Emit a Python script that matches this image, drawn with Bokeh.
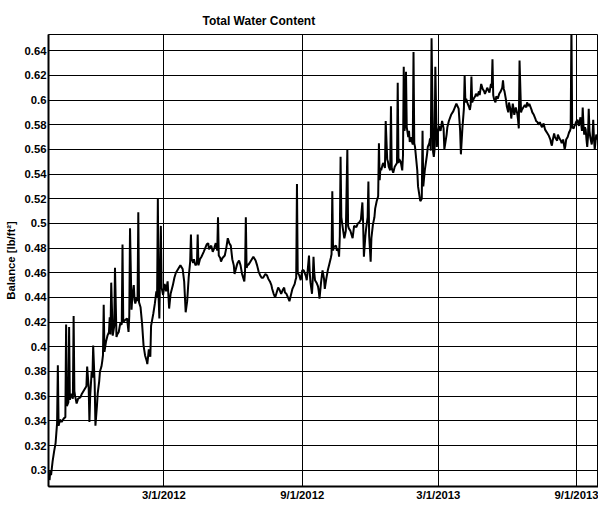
import pandas as pd
from datetime import datetime
from bokeh.plotting import figure
from bokeh.models import FixedTicker, Range1d
from bokeh.embed import file_html
from bokeh.resources import INLINE

# ---------------- data ----------------
start_date = "2011-10-01"

days_since_start = [
    0, 1, 2, 4, 6, 8, 9, 10, 11, 12, 14, 16, 19, 21, 22, 23, 25, 26, 27, 29,
    31, 32, 33, 34, 36, 38, 41, 43, 45, 47, 49, 50, 52, 53, 54, 56, 57, 58, 60, 61,
    63, 64, 66, 67, 69, 70, 71, 72, 73, 75, 77, 79, 80, 81, 82, 84, 86, 87, 89, 90,
    92, 94, 96, 97, 98, 101, 103, 105, 106, 107, 109, 110, 112, 113, 114, 116, 117, 118, 119, 121,
    123, 125, 127, 129, 130, 132, 134, 135, 138, 140, 142, 143, 144, 145, 146, 148, 149, 151, 153, 155,
    157, 159, 161, 164, 166, 168, 170, 172, 174, 177, 179, 181, 183, 185, 187, 188, 189, 191, 192, 194,
    196, 197, 198, 200, 202, 205, 207, 209, 211, 212, 214, 215, 217, 219, 221, 223, 224, 225, 227, 228,
    230, 233, 235, 237, 239, 241, 243, 245, 246, 249, 250, 252, 254, 256, 259, 260, 261, 262, 263, 265,
    267, 269, 271, 274, 276, 278, 280, 282, 284, 287, 289, 291, 293, 295, 296, 298, 300, 302, 304, 306,
    308, 310, 312, 313, 315, 317, 319, 321, 323, 326, 327, 328, 329, 330, 332, 334, 336, 338, 341, 342,
    343, 345, 346, 347, 349, 350, 351, 352, 353, 355, 357, 358, 359, 361, 362, 363, 365, 366, 368, 370,
    372, 374, 375, 376, 377, 378, 381, 382, 384, 385, 386, 387, 388, 390, 391, 392, 394, 396, 397, 398,
    400, 402, 403, 405, 408, 410, 412, 414, 416, 417, 418, 420, 421, 423, 424, 425, 427, 428, 430, 432,
    433, 435, 437, 438, 439, 440, 441, 443, 444, 446, 447, 449, 450, 451, 453, 454, 455, 457, 459, 462,
    463, 464, 465, 467, 469, 470, 471, 472, 473, 474, 475, 477, 478, 479, 481, 482, 483, 484, 485, 486,
    489, 490, 492, 493, 495, 496, 497, 499, 502, 503, 505, 506, 507, 508, 510, 511, 512, 513, 515, 516,
    518, 520, 522, 524, 525, 528, 529, 531, 534, 537, 539, 541, 544, 546, 547, 549, 551, 552, 553, 554,
    556, 558, 559, 560, 561, 562, 564, 566, 567, 569, 571, 572, 574, 576, 578, 579, 581, 582, 585, 587,
    588, 589, 590, 591, 593, 594, 596, 598, 600, 602, 603, 604, 605, 607, 608, 610, 611, 613, 614, 616,
    617, 618, 620, 622, 623, 624, 625, 627, 628, 630, 632, 634, 635, 637, 638, 641, 642, 644, 646, 647,
    649, 650, 652, 654, 655, 657, 659, 660, 662, 664, 666, 667, 668, 669, 671, 672, 673, 675, 676, 678,
    680, 681, 683, 684, 685, 686, 687, 689, 690, 691, 692, 693, 694, 695, 697, 698, 699, 700, 702, 703,
    704, 705, 706, 708, 709, 710, 711, 712, 713, 714, 715, 716, 717, 718, 719, 721, 722, 723, 724, 725,
    726, 727, 729, 730,
]

balance = [
    0.292, 0.300, 0.296, 0.307, 0.315, 0.322, 0.330, 0.338, 0.385, 0.336, 0.341, 0.339, 0.342, 0.343, 0.418, 0.352, 0.355, 0.416, 0.357, 0.362,
    0.358, 0.425, 0.364, 0.360, 0.354, 0.358, 0.359, 0.362, 0.364, 0.366, 0.368, 0.384, 0.367, 0.339, 0.360, 0.380, 0.375, 0.401, 0.370, 0.336,
    0.352, 0.362, 0.372, 0.380, 0.384, 0.388, 0.393, 0.434, 0.396, 0.404, 0.409, 0.412, 0.424, 0.410, 0.452, 0.409, 0.417, 0.464, 0.408, 0.410,
    0.412, 0.419, 0.418, 0.483, 0.420, 0.422, 0.423, 0.412, 0.425, 0.496, 0.430, 0.440, 0.450, 0.438, 0.435, 0.440, 0.437, 0.509, 0.436, 0.432,
    0.419, 0.401, 0.393, 0.389, 0.386, 0.398, 0.392, 0.417, 0.427, 0.435, 0.445, 0.440, 0.520, 0.440, 0.423, 0.498, 0.448, 0.442, 0.451, 0.445,
    0.453, 0.431, 0.443, 0.450, 0.456, 0.460, 0.462, 0.464, 0.466, 0.463, 0.453, 0.428, 0.437, 0.456, 0.469, 0.491, 0.471, 0.468, 0.471, 0.466,
    0.468, 0.491, 0.466, 0.471, 0.473, 0.477, 0.480, 0.483, 0.484, 0.479, 0.481, 0.482, 0.477, 0.480, 0.484, 0.478, 0.505, 0.474, 0.472, 0.469,
    0.472, 0.474, 0.480, 0.488, 0.484, 0.482, 0.471, 0.466, 0.459, 0.466, 0.468, 0.470, 0.466, 0.459, 0.453, 0.462, 0.505, 0.464, 0.466, 0.467,
    0.469, 0.471, 0.473, 0.470, 0.466, 0.461, 0.458, 0.456, 0.456, 0.459, 0.458, 0.455, 0.453, 0.450, 0.447, 0.443, 0.440, 0.444, 0.448, 0.446,
    0.443, 0.446, 0.448, 0.444, 0.443, 0.440, 0.437, 0.442, 0.447, 0.451, 0.454, 0.456, 0.532, 0.460, 0.458, 0.454, 0.462, 0.462, 0.457, 0.454,
    0.460, 0.474, 0.460, 0.452, 0.443, 0.455, 0.473, 0.460, 0.454, 0.452, 0.449, 0.445, 0.439, 0.452, 0.457, 0.462, 0.455, 0.447, 0.455, 0.462,
    0.467, 0.472, 0.475, 0.526, 0.478, 0.481, 0.482, 0.478, 0.479, 0.473, 0.490, 0.554, 0.505, 0.496, 0.492, 0.488, 0.494, 0.560, 0.498, 0.496,
    0.494, 0.490, 0.488, 0.498, 0.497, 0.500, 0.501, 0.503, 0.517, 0.500, 0.473, 0.490, 0.496, 0.505, 0.534, 0.490, 0.469, 0.488, 0.499, 0.505,
    0.512, 0.518, 0.522, 0.565, 0.535, 0.545, 0.543, 0.548, 0.549, 0.545, 0.583, 0.552, 0.550, 0.546, 0.543, 0.595, 0.545, 0.541, 0.546, 0.549,
    0.614, 0.549, 0.552, 0.550, 0.543, 0.555, 0.627, 0.575, 0.580, 0.623, 0.578, 0.570, 0.575, 0.566, 0.570, 0.566, 0.564, 0.639, 0.565, 0.562,
    0.543, 0.530, 0.522, 0.518, 0.520, 0.575, 0.530, 0.543, 0.556, 0.562, 0.565, 0.569, 0.559, 0.650, 0.558, 0.554, 0.560, 0.627, 0.562, 0.572,
    0.579, 0.575, 0.583, 0.577, 0.560, 0.572, 0.578, 0.583, 0.588, 0.591, 0.594, 0.597, 0.593, 0.575, 0.556, 0.577, 0.593, 0.620, 0.598, 0.601,
    0.597, 0.594, 0.592, 0.596, 0.619, 0.598, 0.601, 0.603, 0.605, 0.603, 0.607, 0.604, 0.613, 0.609, 0.607, 0.605, 0.608, 0.610, 0.606, 0.613,
    0.610, 0.633, 0.604, 0.601, 0.598, 0.603, 0.601, 0.605, 0.607, 0.610, 0.616, 0.609, 0.607, 0.600, 0.595, 0.590, 0.598, 0.592, 0.585, 0.597,
    0.593, 0.588, 0.594, 0.589, 0.584, 0.577, 0.632, 0.590, 0.592, 0.594, 0.596, 0.594, 0.598, 0.595, 0.597, 0.592, 0.590, 0.588, 0.585, 0.583,
    0.582, 0.580, 0.582, 0.579, 0.578, 0.581, 0.576, 0.575, 0.573, 0.571, 0.568, 0.565, 0.563, 0.567, 0.573, 0.570, 0.569, 0.567, 0.572, 0.569,
    0.567, 0.565, 0.568, 0.564, 0.560, 0.563, 0.568, 0.570, 0.572, 0.574, 0.575, 0.577, 0.660, 0.578, 0.577, 0.579, 0.580, 0.582, 0.584, 0.581,
    0.579, 0.583, 0.586, 0.575, 0.594, 0.580, 0.572, 0.578, 0.576, 0.568, 0.562, 0.570, 0.593, 0.575, 0.570, 0.564, 0.570, 0.584, 0.568, 0.560,
    0.566, 0.572, 0.568, 0.575,
]

y_ticks = [0.30, 0.32, 0.34, 0.36, 0.38, 0.40, 0.42, 0.44, 0.46, 0.48, 0.50,
           0.52, 0.54, 0.56, 0.58, 0.60, 0.62, 0.64]
y_tick_labels = ["0.3", "0.32", "0.34", "0.36", "0.38", "0.4", "0.42", "0.44", "0.46",
                 "0.48", "0.5", "0.52", "0.54", "0.56", "0.58", "0.6", "0.62", "0.64"]
x_tick_dates = ["2012-03-01", "2012-09-01", "2013-03-01", "2013-09-01"]
x_tick_labels = ["3/1/2012", "9/1/2012", "3/1/2013", "9/1/2013"]

# ---------------- build ----------------
dates = pd.to_datetime(start_date) + pd.to_timedelta(days_since_start, unit="D")
x_tick_ms = [pd.Timestamp(d).timestamp() * 1000.0 for d in x_tick_dates]

FONT = "Liberation Sans"

p = figure(
    width=598, height=503,
    x_axis_type="datetime",
    x_range=Range1d(datetime(2011, 9, 29, 14), datetime(2013, 9, 30, 0)),
    y_range=Range1d(0.2868, 0.6531),
    title="Total Water Content",
    output_backend="svg", toolbar_location=None,
    min_border_left=48, min_border_right=0, min_border_top=34, min_border_bottom=0,
    background_fill_color="white", border_fill_color="white",
)

p.title.text_font = FONT
p.title.text_font_style = "bold"
p.title.text_font_size = "12px"
p.title.text_color = "black"
p.title.align = "left"
p.title.offset = 154
p.title.standoff = 13

p.xaxis.ticker = FixedTicker(ticks=x_tick_ms)
p.xaxis.major_label_overrides = dict(zip(x_tick_ms, x_tick_labels))
p.yaxis.ticker = FixedTicker(ticks=y_ticks)
p.yaxis.major_label_overrides = dict(zip(y_ticks, y_tick_labels))

for ax in (p.xaxis[0], p.yaxis[0]):
    ax.major_label_text_font = FONT
    ax.major_label_text_font_style = "bold"
    ax.major_label_text_font_size = "11.3px"
    ax.major_label_text_color = "black"
    ax.major_tick_out = 0
    ax.major_tick_in = 0
    ax.minor_tick_out = 0
    ax.minor_tick_in = 0
    ax.axis_line_width = 2
    ax.axis_line_color = "black"
    ax.major_label_standoff = 2

p.yaxis.axis_label = "Balance [lb/ft²]"
p.yaxis.axis_label_text_font = FONT
p.yaxis.axis_label_text_font_style = "bold"
p.yaxis.axis_label_text_font_size = "11.3px"
p.yaxis.axis_label_text_color = "black"
p.yaxis.axis_label_standoff = 5

p.xgrid.grid_line_color = "black"
p.ygrid.grid_line_color = "black"
p.xgrid.grid_line_width = 1
p.ygrid.grid_line_width = 1
p.outline_line_color = "black"
p.outline_line_width = 1

p.line(dates, balance, line_color="black", line_width=2)

open("out.html", "w").write(file_html(p, INLINE))
